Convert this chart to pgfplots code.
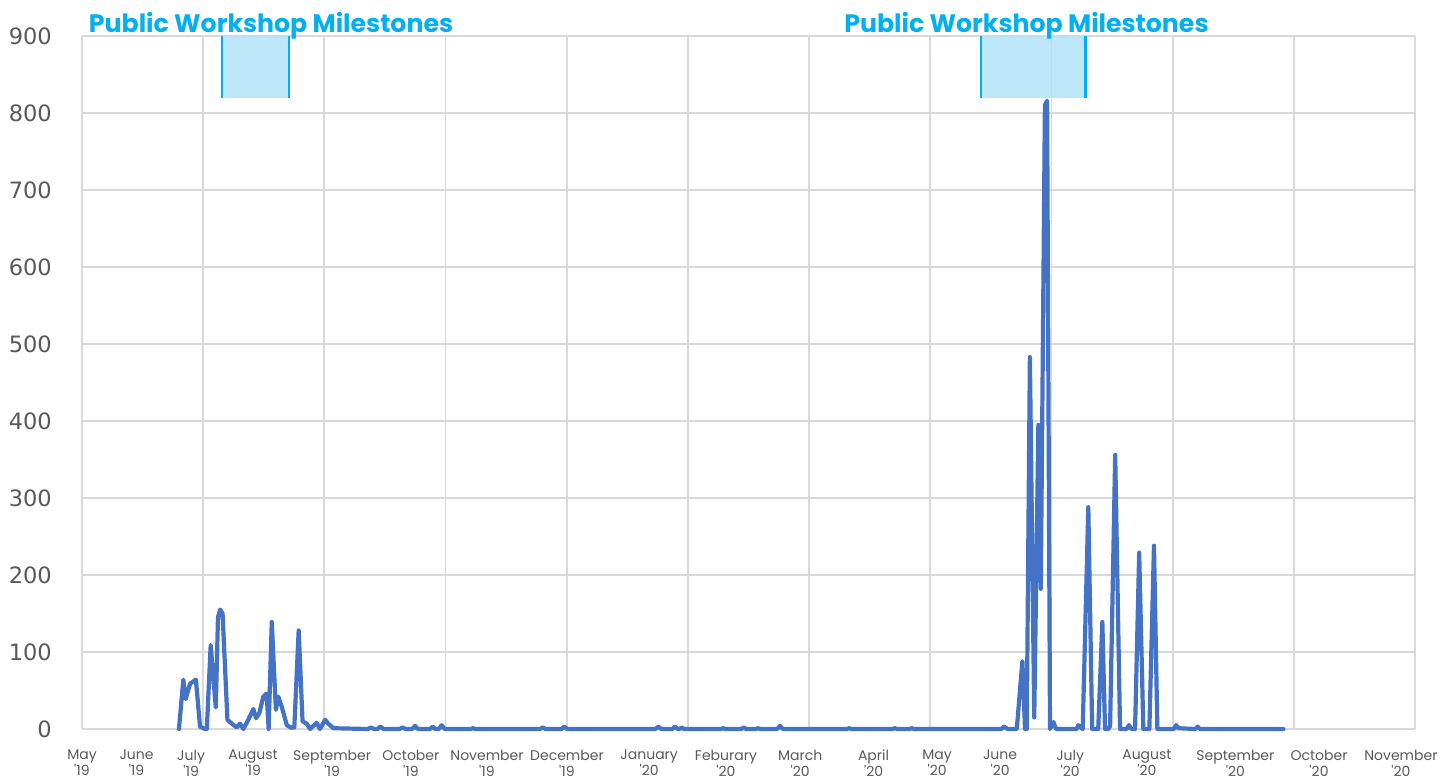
\documentclass[border=0pt]{standalone}
\usepackage{pgfplots}
\pgfplotsset{compat=1.18}
\usepackage{fontspec}
\setmainfont{Poppins}
\newfontfamily\dejavu{DejaVu Sans}
\definecolor{lineblue}{HTML}{4472C4}
\definecolor{gridgray}{HTML}{D9D9D9}
\definecolor{tickgray}{HTML}{595959}
\definecolor{msblue}{HTML}{00B0F0}
\definecolor{msfill}{HTML}{ADE1F6}

% daily counts, x = days after 1 May 2019
\pgfplotstableread{
day val
40 0
41.8 64
42.8 39
44.6 59
47.0 64
48.7 3
50.7 0
51.5 0
53.1 109
55.2 28
56.1 145
57.0 155
58.0 150
60.0 12
61.8 7
63.8 2
65.2 7
66.6 0
68.6 12
70.7 26
71.8 14
73.2 21
74.8 42
76.2 46
77.0 0
78.3 139
80.0 25
81.0 42
82.4 29
84.5 5
86.1 2
87.6 2
89.4 128
91.0 10
92.7 7
94.1 0
96.8 8
98.2 0
100.3 12
101.6 7
103.7 1
118 0
119.1 2
120.5 0
122 0
123 3
124.5 0
131 0
132.3 2
133.5 0
136.2 0
137.4 4
138.6 0
143.6 0
144.7 3
145.8 0
147.3 0
148.4 5
149.6 0
160.3 0
161.3 1
162.3 0
189 0
190.1 2
191.2 0
197.8 0
199 3
200.2 0
236.6 0
237.8 3
239 0
243.6 0
244.7 3
245.8 0
246.6 0
247.4 2
248.4 0
263.5 0
264.5 1
265.5 0
272 0
273 2
274 0
278 0
278.9 1
280 0
286.8 0
288 4
289.2 0
315.5 0
316.5 1
317.5 0
334.4 0
335.4 1
336.4 0
341.3 0
342.3 1
343.3 0
379.3 0
380.4 3
382 0
385.7 0
388.0 88
389.1 0
389.8 0
391.1 483
392.9 15
394.6 395
395.6 182
397.3 810
398.2 816
399.4 0
400.8 9
401.9 0
410.4 0
411.1 5
412.9 0
415.2 288
416.8 0
419.3 0
421.0 139
422.1 0
423.5 0
424.2 4
426.3 356
428.3 0
431 0
432.0 5
433 0
434.5 0
436.2 229
437.9 0
440.4 0
442.3 238
443.7 0
450.6 0
451.4 5
452.5 1
459.3 0
460.3 3
461.3 0
495.7 0
}\visits

\begin{document}
\begin{tikzpicture}
\path[use as bounding box] (-82bp,-50bp) rectangle (1373bp,729bp);
\begin{axis}[
    at={(0,0)}, anchor=south west,
    scale only axis, width=1333bp, height=693bp,
    xmin=0, xmax=550, ymin=0, ymax=900,
    axis line style={draw=none},
    major tick length=0pt, minor tick length=0pt,
    ytick={0,100,...,900},
    ymajorgrids, xminorgrids, xmajorgrids=false,
    minor xtick={0,50,...,550},
    grid style={gridgray, line width=1.8bp},
    minor grid style={gridgray, line width=1.8bp},
    xtick={0,22.5,45,70.6,103.2,135.7,167.1,200.1,234,265.7,296.3,326.6,352.8,378.8,407.7,439.4,475.9,510.4,544.2},
    xticklabels={{May\\\textquotesingle19},{June\\\textquotesingle19},{July\\\textquotesingle19},{August\\\textquotesingle19},
      {September\\\textquotesingle19},{October\\\textquotesingle19},{November\\\textquotesingle19},{December\\\textquotesingle19},
      {January\\\textquotesingle20},{Feburary\\\textquotesingle20},{March\\\textquotesingle20},{April\\\textquotesingle20},
      {May\\\textquotesingle20},{June\\\textquotesingle20},{July\\\textquotesingle20},{August\\\textquotesingle20},
      {September\\\textquotesingle20},{October\\\textquotesingle20},{November\\\textquotesingle20}},
    xticklabel style={align=center, font=\fontsize{14bp}{15.5bp}\selectfont, text=tickgray, inner sep=0pt, yshift=-21bp},
    yticklabel style={font=\dejavu\fontsize{22.5bp}{26bp}\selectfont, text=tickgray, inner sep=0pt, xshift=-30bp},
    /pgf/number format/assume math mode=true,
    clip=false,
]
% milestone windows
\fill[msfill, fill opacity=0.8] (axis cs:57.8,820) rectangle (axis cs:85.4,900);
\draw[msblue, line width=2.5bp] (axis cs:57.8,820) -- (axis cs:57.8,900);
\draw[msblue, line width=2.5bp] (axis cs:85.4,820) -- (axis cs:85.4,900);
\fill[msfill, fill opacity=0.8] (axis cs:370.9,820) rectangle (axis cs:414.0,900);
\draw[msblue, line width=2.5bp] (axis cs:370.9,820) -- (axis cs:370.9,900);
\draw[msblue, line width=2.5bp] (axis cs:414.0,820) -- (axis cs:414.0,900);

\addplot[lineblue, line width=4.2bp, line join=round, line cap=round] table[x=day, y=val] {\visits};

\node[anchor=base, msblue, font=\fontsize{25.2bp}{29bp}\selectfont\bfseries] at (axis cs:78.0,905) {Public Workshop Milestones};
\node[anchor=base, msblue, font=\fontsize{25.2bp}{29bp}\selectfont\bfseries] at (axis cs:389.7,905) {Public Workshop Milestones};
\end{axis}
\end{tikzpicture}
\end{document}
